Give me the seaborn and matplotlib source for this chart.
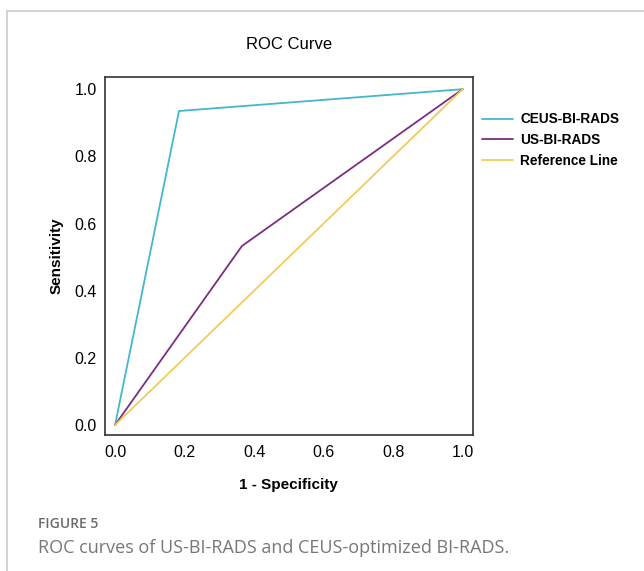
import pandas as pd
import matplotlib.pyplot as plt
import seaborn as sns
from matplotlib.lines import Line2D

# ROC points
ceus_fpr = [0.0, 0.184, 1.0]
ceus_tpr = [0.0, 0.935, 1.0]
us_fpr = [0.0, 0.365, 1.0]
us_tpr = [0.0, 0.533, 1.0]
ref_fpr = [0.0, 1.0]
ref_tpr = [0.0, 1.0]
series = ["CEUS-BI-RADS", "US-BI-RADS", "Reference Line"]
colors = ["#45B6CB", "#7A2E7F", "#F2CB5A"]
x_ticks = [0.0, 0.2, 0.4, 0.6, 0.8, 1.0]

df = pd.concat([
    pd.DataFrame({"fpr": ceus_fpr, "tpr": ceus_tpr, "curve": series[0]}),
    pd.DataFrame({"fpr": us_fpr, "tpr": us_tpr, "curve": series[1]}),
    pd.DataFrame({"fpr": ref_fpr, "tpr": ref_tpr, "curve": series[2]}),
], ignore_index=True)

sns.set_style("white")
plt.rcParams['font.family'] = ['Liberation Sans', 'DejaVu Sans']
plt.rcParams['text.color'] = 'black'
plt.rcParams['axes.labelcolor'] = 'black'
plt.rcParams['xtick.color'] = 'black'
plt.rcParams['ytick.color'] = 'black'

fig = plt.figure(figsize=(6.44, 5.71), dpi=100)
ax = fig.add_axes([0.163, 0.238, 0.571, 0.627])

sns.lineplot(data=df, x="fpr", y="tpr", hue="curve", hue_order=series,
             palette=colors, sort=False, estimator=None, linewidth=1.3, ax=ax)

ax.set_xlim(-0.029, 1.029)
ax.set_ylim(-0.030, 1.036)
ax.set_xticks(x_ticks)
ax.set_yticks(x_ticks)
ax.set_xticklabels([f"{t:.1f}" for t in x_ticks], fontsize=11.5)
ax.set_yticklabels([f"{t:.1f}" for t in x_ticks], fontsize=11.5)
ax.tick_params(axis="x", length=0, pad=7)
ax.tick_params(axis="y", length=0, pad=6)
for s in ax.spines.values():
    s.set_color("#333333")
    s.set_linewidth(1.2)

ax.set_xlabel("1 - Specificity", fontsize=11, fontweight="bold", labelpad=13)
ax.set_ylabel("Sensitivity", fontsize=11, fontweight="bold", labelpad=8)
ax.set_title("ROC Curve", fontsize=12, pad=20)

handles, labels = ax.get_legend_handles_labels()
ax.legend(handles, labels, loc="upper left", bbox_to_anchor=(0.738, 0.815),
          bbox_transform=fig.transFigure, frameon=False, borderpad=0,
          handlelength=2.3, handletextpad=0.5, labelspacing=0.5,
          prop={"weight": "bold", "size": 9.8})

# card frame and caption
fig.add_artist(Line2D([7 / 644, 7 / 644], [0, 1 - 11 / 571], color="#cccccc", lw=1.2))
fig.add_artist(Line2D([7 / 644, 1], [1 - 11 / 571, 1 - 11 / 571], color="#cccccc", lw=1.2))
fig.text(38 / 644, 1 - 524 / 571, "FIGURE 5", fontsize=10, color="#6b6b6b",
         va="center", family=["Open Sans", "DejaVu Sans"], fontweight="semibold")
fig.text(38 / 644, 1 - 548 / 571, "ROC curves of US-BI-RADS and CEUS-optimized BI-RADS.",
         fontsize=13, color="#777777", va="center", family=["Open Sans", "DejaVu Sans"])

fig.savefig("out.png", dpi=100)
